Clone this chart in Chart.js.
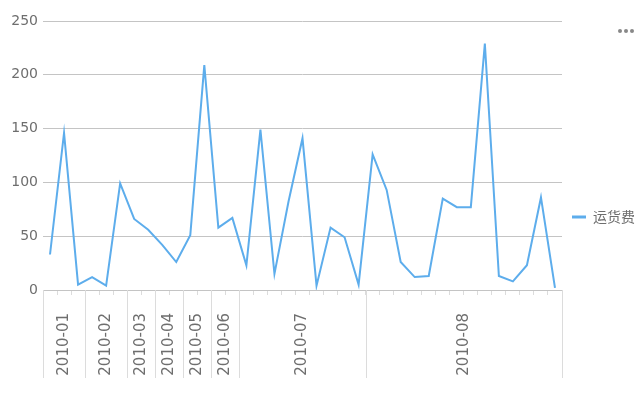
<!DOCTYPE html>
<html>
<head>
<meta charset="utf-8">
<script src="https://cdn.jsdelivr.net/npm/chart.js@4/dist/chart.umd.min.js"></script>
<style>
  html, body { margin: 0; padding: 0; background: #ffffff; }
  #wrap { position: relative; width: 642px; height: 395px; }
</style>
</head>
<body>
<div id="wrap"><canvas id="c" width="642" height="395"></canvas></div>
<script>
// ---- data ----
const categories = [
  '2010-01','2010-01','2010-01',
  '2010-02','2010-02','2010-02',
  '2010-03','2010-03',
  '2010-04','2010-04',
  '2010-05','2010-05',
  '2010-06','2010-06',
  '2010-07','2010-07','2010-07','2010-07','2010-07','2010-07','2010-07','2010-07','2010-07',
  '2010-08','2010-08','2010-08','2010-08','2010-08','2010-08','2010-08','2010-08','2010-08','2010-08','2010-08','2010-08','2010-08','2010-08'
];
const seriesName = '运货费';
const freight = [
  33, 146, 5, 12, 4, 99, 66, 56, 42, 26, 51, 209, 58, 67, 23, 149, 15, 82, 141, 4,
  58, 49, 5, 126, 93, 26, 12, 13, 85, 77, 77, 229, 13, 8, 23, 86, 2
];
const yTicks = [0, 50, 100, 150, 200, 250];

// ---- style ----
const TEXT = '#6e6e6e';
const LINE = '#5DADEC';
const FONT = '"DejaVu Sans", sans-serif';

// group the per-point categories into month spans
function buildGroups(cats) {
  const groups = [];
  cats.forEach((c, i) => {
    const g = groups[groups.length - 1];
    if (g && g.label === c) g.end = i;
    else groups.push({ label: c, start: i, end: i });
  });
  return groups;
}
const groups = buildGroups(categories);

const groupAxisPlugin = {
  id: 'groupAxis',
  afterDraw(chart) {
    const ctx = chart.ctx;
    const xs = chart.scales.x;
    const yBase = chart.chartArea.bottom;
    ctx.save();
    ctx.strokeStyle = '#dcdcdc';
    ctx.lineWidth = 1;
    const bounds = [];
    groups.forEach(g => bounds.push(g.start - 0.5));
    bounds.push(groups[groups.length - 1].end + 0.5);
    bounds.forEach(b => {
      const x = Math.round(xs.getPixelForValue(b)) + 0.5;
      ctx.beginPath();
      ctx.moveTo(x, yBase);
      ctx.lineTo(x, yBase + 88);
      ctx.stroke();
    });
    ctx.fillStyle = TEXT;
    ctx.font = '15px ' + FONT;
    ctx.textAlign = 'right';
    ctx.textBaseline = 'middle';
    groups.forEach(g => {
      const cx = (xs.getPixelForValue(g.start - 0.5) + xs.getPixelForValue(g.end + 0.5)) / 2;
      ctx.save();
      ctx.translate(cx, yBase + 23);
      ctx.rotate(-Math.PI / 2);
      ctx.fillText(g.label, 0, 0);
      ctx.restore();
    });
    // menu dots
    ctx.fillStyle = '#888888';
    [620, 626, 632].forEach(x => {
      ctx.beginPath();
      ctx.arc(x, 31, 2, 0, Math.PI * 2);
      ctx.fill();
    });
    ctx.restore();
  }
};

new Chart(document.getElementById('c'), {
  type: 'line',
  data: {
    labels: categories,
    datasets: [{
      label: seriesName,
      data: freight,
      borderColor: LINE,
      backgroundColor: LINE,
      borderWidth: 2,
      pointRadius: 0,
      pointHoverRadius: 0,
      tension: 0,
      fill: false
    }]
  },
  options: {
    responsive: false,
    animation: false,
    devicePixelRatio: 1,
    layout: { padding: { top: 21, right: -3, bottom: 0, left: 0 } },
    plugins: {
      tooltip: { enabled: false },
      legend: {
        position: 'right',
        align: 'center',
        title: { display: true, text: '', padding: 0, font: { size: 18, lineHeight: 1 } },
        labels: {
          color: TEXT,
          font: { family: '"Noto Sans CJK SC", sans-serif', size: 14 },
          boxWidth: 14,
          boxHeight: 3,
          padding: 10,
          generateLabels(chart) {
            return Chart.defaults.plugins.legend.labels.generateLabels(chart).map(l => {
              l.lineWidth = 0;
              l.fillStyle = LINE;
              return l;
            });
          }
        }
      }
    },
    scales: {
      x: {
        type: 'category',
        offset: true,
        afterFit(s) { s.height = 105; },
        border: { display: true, color: '#c4c4c4', width: 1 },
        grid: {
          display: true,
          offset: true,
          drawOnChartArea: false,
          drawTicks: true,
          tickLength: 5,
          color: '#dcdcdc'
        },
        ticks: { display: false }
      },
      y: {
        min: 0,
        max: 250,
        afterFit(s) { s.width = 43; },
        afterBuildTicks(s) { s.ticks = yTicks.map(v => ({ value: v })); },
        border: { display: false },
        grid: { color: '#c4c4c4', drawTicks: false, lineWidth: 1 },
        ticks: { color: TEXT, padding: 5, font: { family: FONT, size: 14 } }
      }
    }
  },
  plugins: [groupAxisPlugin]
});
</script>
</body>
</html>
